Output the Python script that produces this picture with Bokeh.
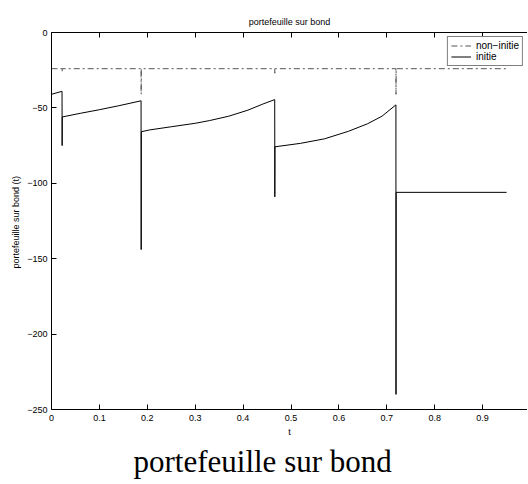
from bokeh.plotting import figure
from bokeh.models import LinearAxis, FixedTicker, Title, Legend, LegendItem, Range1d
from bokeh.embed import file_html
from bokeh.resources import INLINE

# --- data ---
t_initie = [0.0, 0.022, 0.0222, 0.0225,
            0.06, 0.10, 0.14, 0.187,
            0.1872, 0.1875,
            0.205, 0.25, 0.30, 0.33, 0.37, 0.41, 0.44, 0.466,
            0.4662, 0.4665,
            0.52, 0.57, 0.62, 0.66, 0.69, 0.719,
            0.7192, 0.7195, 0.95]
v_initie = [-41, -39, -75, -56,
            -53.6, -51.2, -48.6, -45.3,
            -144, -65.8,
            -64.6, -62.5, -60.2, -58.4, -55.5, -51.5, -47.6, -44.5,
            -109, -75.8,
            -73.5, -70.5, -65.5, -60.5, -55.5, -48,
            -240, -106, -106]

t_non = [0.0, 0.022, 0.0222, 0.0225, 0.187, 0.1872, 0.1875,
         0.466, 0.4662, 0.4665, 0.719, 0.7192, 0.7195, 0.95]
v_non = [-24, -24, -26, -24, -24, -41, -24,
         -24, -27, -24, -24, -41, -24, -24]

x_ticks = [0, 0.1, 0.2, 0.3, 0.4, 0.5, 0.6, 0.7, 0.8, 0.9]
x_labels = ["0", "0.1", "0.2", "0.3", "0.4", "0.5", "0.6", "0.7", "0.8", "0.9"]
y_ticks = [0, -50, -100, -150, -200, -250]
y_labels = ["0", "\u221250", "\u2212100", "\u2212150", "\u2212200", "\u2212250"]

title_text = "portefeuille sur bond"
ylabel = "portefeuille sur bond  (t)"
xlabel = "t"
caption = "portefeuille sur bond"
legend_labels = ["non\u2212initie", "initie"]

FONT = "Liberation Sans"

p = figure(width=527, height=480, output_backend="svg", toolbar_location=None,
           x_range=Range1d(0, 0.9937), y_range=Range1d(-250, 0),
           min_border_left=51, min_border_right=0, min_border_top=32,
           min_border_bottom=66)
p.background_fill_color = "white"
p.border_fill_color = "white"
p.outline_line_color = None
p.grid.visible = False

p.title.text = title_text
p.title.align = "center"
p.title.text_font = FONT
p.title.text_font_size = "9px"
p.title.text_font_style = "normal"
p.title.text_color = "black"
p.title.standoff = 11

r_non = p.line(t_non, v_non, line_color="#555555", line_width=1, line_dash="6 3 2 3")
r_ini = p.line(t_initie, v_initie, line_color="black", line_width=1)

def style_axis(ax, ticks, labels):
    ax.ticker = FixedTicker(ticks=ticks)
    ax.major_label_overrides = {k: v for k, v in zip(ticks, labels)}
    ax.major_tick_in = 5
    ax.major_tick_out = 0
    ax.minor_tick_in = 0
    ax.minor_tick_out = 0
    ax.axis_line_color = "black"
    ax.axis_line_width = 1
    ax.major_tick_line_color = "black"
    ax.major_label_text_font = FONT
    ax.major_label_text_font_size = "9px"
    ax.major_label_text_color = "black"
    ax.major_label_standoff = 5
    ax.axis_label_text_font = FONT
    ax.axis_label_text_font_size = "9px"
    ax.axis_label_text_font_style = "normal"
    ax.axis_label_text_color = "black"
    ax.axis_label_standoff = 3

style_axis(p.xaxis[0], x_ticks, x_labels)
p.xaxis[0].axis_label = xlabel
style_axis(p.yaxis[0], y_ticks, y_labels)
p.yaxis[0].major_label_standoff = 4
p.yaxis[0].axis_label = ylabel

top = LinearAxis()
style_axis(top, x_ticks, x_labels)
top.major_label_text_color = None
top.major_label_text_font_size = "1px"
top.major_label_standoff = 0
p.add_layout(top, "above")
p.above = [top] + [r for r in p.above if r is not top]

legend = Legend(items=[LegendItem(label=legend_labels[0], renderers=[r_non]),
                       LegendItem(label=legend_labels[1], renderers=[r_ini])],
                location="top_right")
legend.label_text_font = FONT
legend.label_text_font_size = "10px"
legend.label_text_color = "black"
legend.label_height = 11
legend.glyph_height = 11
legend.glyph_width = 20
legend.label_standoff = 5
legend.spacing = 0
legend.padding = 3
legend.margin = 4
legend.border_line_color = "black"
legend.border_line_width = 1
legend.background_fill_color = "white"
p.add_layout(legend)

cap = Title(text=caption, align="left", offset=82, text_font="Liberation Serif",
            text_font_size="31px", text_font_style="normal", text_color="black",
            standoff=4)
p.add_layout(cap, "below")

open("out.html", "w").write(file_html(p, INLINE))
